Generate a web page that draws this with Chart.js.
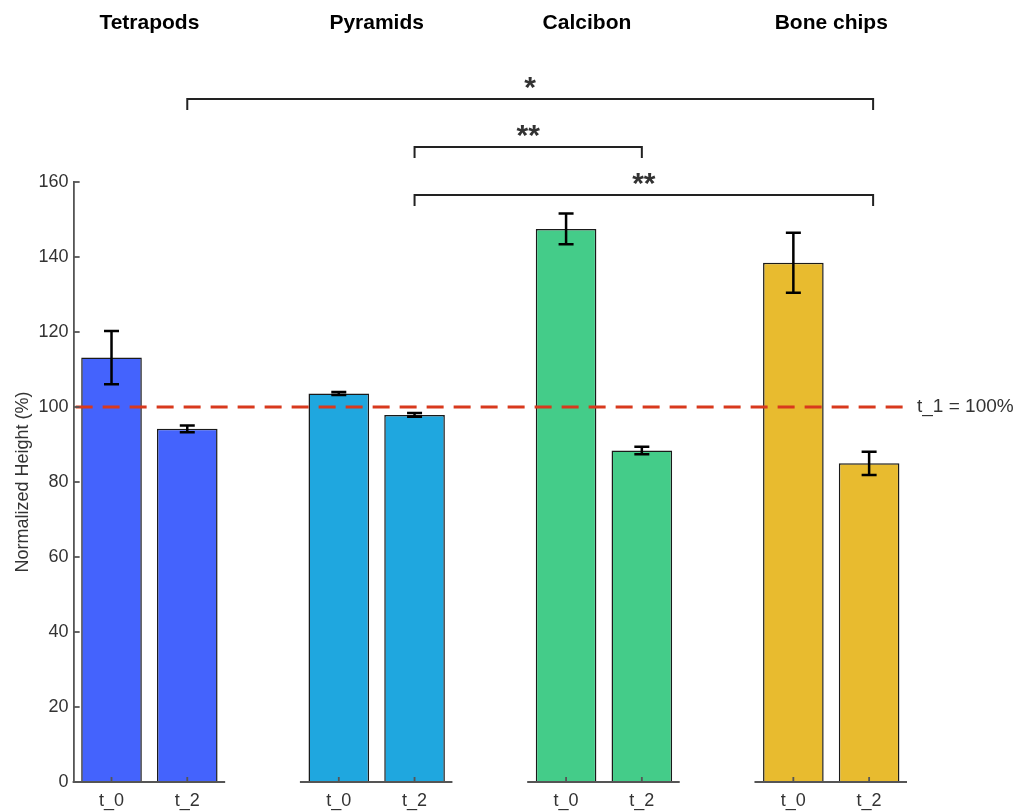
<!DOCTYPE html>
<html lang="en">
<head>
  <meta charset="UTF-8">
  <title>Normalized Height</title>
  <script src="https://cdn.jsdelivr.net/npm/chart.js"></script>
  <style>
    body {
      margin: 0;
      background: #fff;
    }
    .chart-container {
      position: relative;
      width: 1017px;
      height: 811px;
    }
  </style>
</head>
<body>
  <div class="chart-container">
    <canvas id="heightChart"></canvas>
  </div>

  <script>
    // Data
    const groups = ['Tetrapods', 'Pyramids', 'Calcibon', 'Bone chips'];
    const timepoints = ['t_0', 't_2'];
    const t0Values = [113.2, 103.6, 147.5, 138.5];
    const t2Values = [94.2, 97.9, 88.4, 85.0];
    const t0Errors = [7.1, 0.4, 4.1, 8.0];
    const t2Errors = [0.9, 0.5, 1.0, 3.1];
    const groupColors = ['#4463fd', '#1fa7df', '#44cc89', '#e8bb2f'];
    const yTicks = [0, 20, 40, 60, 80, 100, 120, 140, 160];
    const referenceValue = 100;
    const referenceLabel = 't_1 = 100%';
    // [from bar, to bar, label] with bars indexed as group * 2 + timepoint
    const brackets = [
      [3, 7, '**'],
      [3, 5, '**'],
      [1, 7, '*']
    ];

    // one empty slot between groups gives the gaps
    const labels = [];
    const values = [];
    const errors = [];
    const colors = [];
    const barIndex = [];
    groups.forEach((g, i) => {
      if (i > 0) {
        labels.push('');
        values.push(null);
        errors.push(null);
        colors.push('transparent');
      }
      barIndex.push(labels.length, labels.length + 1);
      labels.push(timepoints[0], timepoints[1]);
      values.push(t0Values[i], t2Values[i]);
      errors.push(t0Errors[i], t2Errors[i]);
      colors.push(groupColors[i], groupColors[i]);
    });

    const textColor = '#333';
    const axisColor = '#555';

    const decorPlugin = {
      id: 'decor',
      afterDatasetsDraw(chart) {
        const { ctx, chartArea, scales: { x, y } } = chart;
        const half = (x.getPixelForValue(1) - x.getPixelForValue(0)) / 2;
        ctx.save();

        // error bars
        ctx.strokeStyle = '#000';
        ctx.lineWidth = 2.5;
        values.forEach((v, i) => {
          if (v === null) return;
          const cx = x.getPixelForValue(i);
          const yt = y.getPixelForValue(v + errors[i]);
          const yb = y.getPixelForValue(v - errors[i]);
          ctx.beginPath();
          ctx.moveTo(cx, yt); ctx.lineTo(cx, yb);
          ctx.moveTo(cx - 7.5, yt); ctx.lineTo(cx + 7.5, yt);
          ctx.moveTo(cx - 7.5, yb); ctx.lineTo(cx + 7.5, yb);
          ctx.stroke();
        });

        // reference line
        const yRef = y.getPixelForValue(referenceValue);
        ctx.strokeStyle = '#d8391d';
        ctx.lineWidth = 3;
        ctx.setLineDash([17, 10]);
        ctx.beginPath();
        ctx.moveTo(chartArea.left + 2, yRef);
        ctx.lineTo(chartArea.right, yRef);
        ctx.stroke();
        ctx.setLineDash([]);
        ctx.fillStyle = textColor;
        ctx.font = '19px "Liberation Sans", Arial, sans-serif';
        ctx.textAlign = 'left';
        ctx.textBaseline = 'middle';
        ctx.fillText(referenceLabel, chartArea.right + 10, yRef);

        // y axis inward ticks
        ctx.strokeStyle = axisColor;
        ctx.lineWidth = 1.8;
        yTicks.forEach(t => {
          const py = y.getPixelForValue(t);
          ctx.beginPath();
          ctx.moveTo(chartArea.left, py);
          ctx.lineTo(chartArea.left + 6, py);
          ctx.stroke();
        });

        // x axis, one segment per group, with labels
        ctx.textAlign = 'center';
        ctx.textBaseline = 'middle';
        ctx.font = '18px "Liberation Sans", Arial, sans-serif';
        groups.forEach((g, i) => {
          const a = x.getPixelForValue(barIndex[i * 2]);
          const b = x.getPixelForValue(barIndex[i * 2 + 1]);
          ctx.beginPath();
          ctx.moveTo(a - half - 1, chartArea.bottom);
          ctx.lineTo(b + half, chartArea.bottom);
          ctx.moveTo(a, chartArea.bottom); ctx.lineTo(a, chartArea.bottom - 5);
          ctx.moveTo(b, chartArea.bottom); ctx.lineTo(b, chartArea.bottom - 5);
          ctx.stroke();
          ctx.fillText(labels[barIndex[i * 2]], a, chartArea.bottom + 19);
          ctx.fillText(labels[barIndex[i * 2 + 1]], b, chartArea.bottom + 19);
        });

        // group titles
        const titleShift = [0, 0, -17, 0];
        ctx.fillStyle = '#000';
        ctx.font = 'bold 21px "Liberation Sans", Arial, sans-serif';
        groups.forEach((g, i) => {
          const a = x.getPixelForValue(barIndex[i * 2]);
          const b = x.getPixelForValue(barIndex[i * 2 + 1]);
          ctx.fillText(g, (a + b) / 2 + titleShift[i], 23);
        });

        // significance brackets
        ctx.strokeStyle = '#222';
        ctx.lineWidth = 2;
        ctx.fillStyle = '#333';
        ctx.font = 'bold 30px "Liberation Sans", Arial, sans-serif';
        brackets.forEach(([from, to, text], level) => {
          const xa = x.getPixelForValue(barIndex[from]);
          const xb = x.getPixelForValue(barIndex[to]) + (to === 7 ? 4 : 0);
          const by = chartArea.top + 13 - 48 * level;
          ctx.beginPath();
          ctx.moveTo(xa, by + 11);
          ctx.lineTo(xa, by);
          ctx.lineTo(xb, by);
          ctx.lineTo(xb, by + 11);
          ctx.stroke();
          ctx.fillText(text, (xa + xb) / 2, by - 10);
        });

        ctx.restore();
      }
    };

    const ctx = document.getElementById('heightChart').getContext('2d');
    new Chart(ctx, {
      type: 'bar',
      data: {
        labels: labels,
        datasets: [{
          data: values,
          backgroundColor: colors,
          borderColor: '#1a1a1a',
          borderWidth: 1.5,
          barPercentage: 0.8,
          categoryPercentage: 1.0
        }]
      },
      options: {
        responsive: true,
        maintainAspectRatio: false,
        animation: false,
        layout: {
          padding: { top: 182, right: 110, bottom: 29, left: 12 }
        },
        plugins: {
          legend: { display: false },
          tooltip: { enabled: false }
        },
        scales: {
          x: {
            display: false
          },
          y: {
            min: 0,
            max: 160,
            ticks: {
              stepSize: 20,
              padding: 5,
              color: textColor,
              font: { family: '"Liberation Sans", Arial, sans-serif', size: 18 }
            },
            grid: { display: false, drawTicks: false },
            border: { display: true, color: axisColor, width: 1.8 },
            title: {
              display: true,
              text: 'Normalized Height (%)',
              color: textColor,
              padding: { top: 0, bottom: 0 },
              font: { family: '"Liberation Sans", Arial, sans-serif', size: 18 }
            }
          }
        }
      },
      plugins: [decorPlugin]
    });
  </script>
</body>
</html>
